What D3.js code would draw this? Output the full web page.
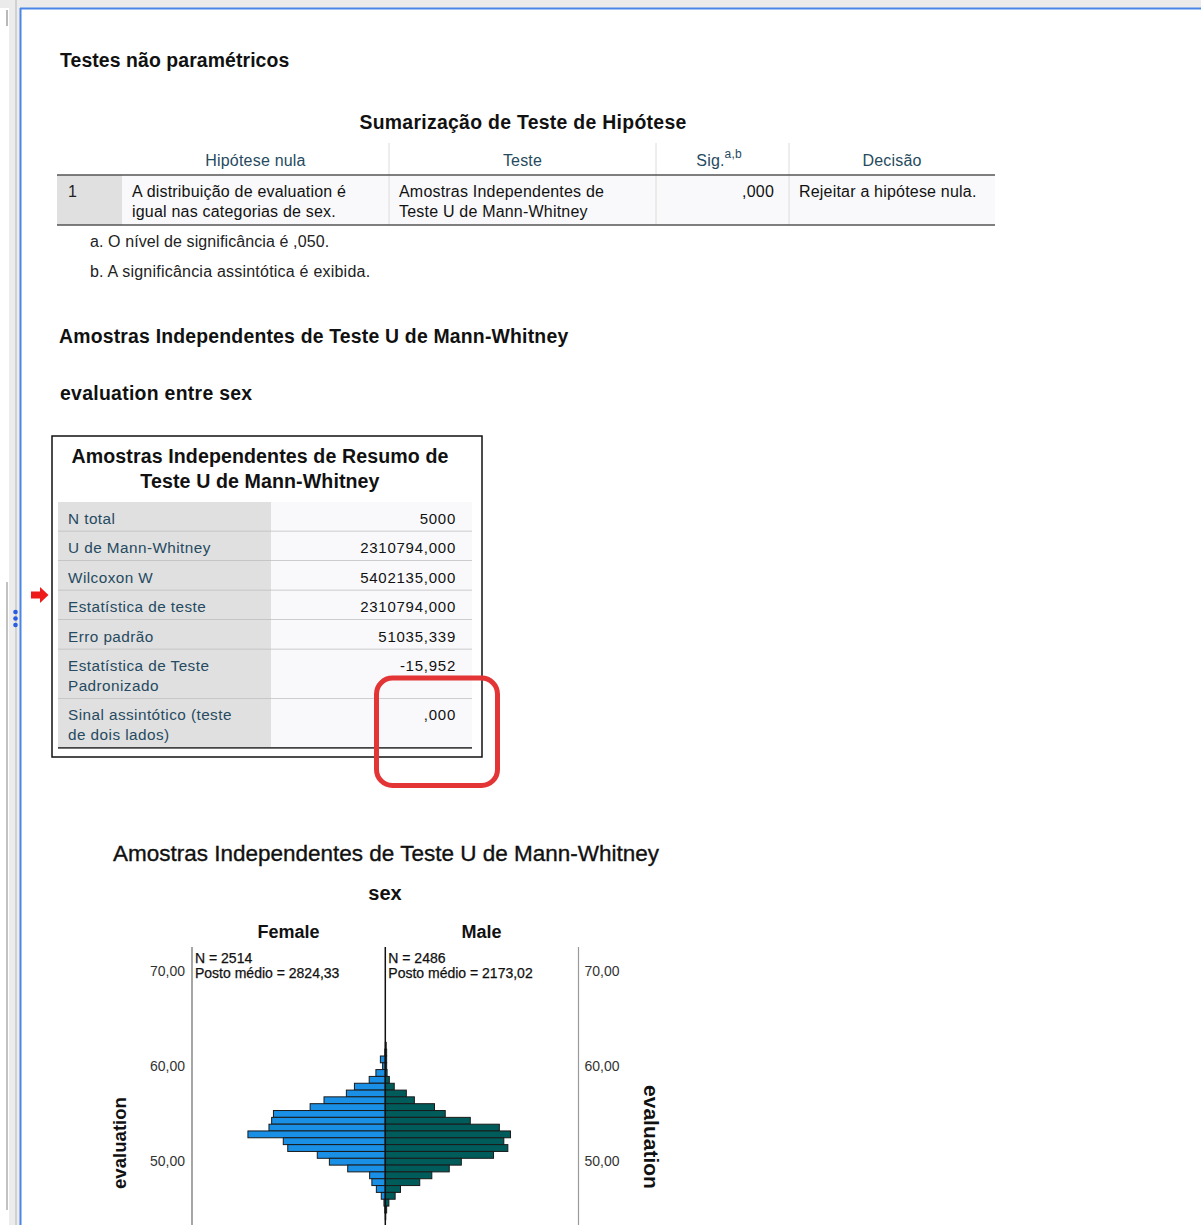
<!DOCTYPE html>
<html><head><meta charset="utf-8">
<script src="https://cdn.jsdelivr.net/npm/d3@7"></script>
<style>
body{margin:0;background:#fff;overflow:hidden;}
svg{display:block;}
text{font-family:"Liberation Sans",Arial,Helvetica,sans-serif;}
</style>
</head><body>
<svg id="c" width="1201" height="1225"></svg>
<script>
// ---------- DATA ----------
const pageTitle = "Testes não paramétricos";
const hypTitle = "Sumarização de Teste de Hipótese";
const hypHeaders = ["Hipótese nula", "Teste", "Sig.", "Decisão"];
const hypRowNumber = "1";
const hypCells = [
  ["A distribuição de evaluation é", "igual nas categorias de sex."],
  ["Amostras Independentes de", "Teste U de Mann-Whitney"],
  [",000"],
  ["Rejeitar a hipótese nula."]
];
const footnotes = ["a. O nível de significância é ,050.", "b. A significância assintótica é exibida."];
const sectionTitle = "Amostras Independentes de Teste U de Mann-Whitney";
const subTitle = "evaluation entre sex";
const summaryTitle = ["Amostras Independentes de Resumo de", "Teste U de Mann-Whitney"];
const summaryLabels = [
  ["N total"], ["U de Mann-Whitney"], ["Wilcoxon W"], ["Estatística de teste"],
  ["Erro padrão"], ["Estatística de Teste", "Padronizado"], ["Sinal assintótico (teste", "de dois lados)"]
];
const summaryValues = ["5000", "2310794,000", "5402135,000", "2310794,000", "51035,339", "-15,952", ",000"];

const chartTitle = "Amostras Independentes de Teste U de Mann-Whitney";
const groupVar = "sex";
const groups = ["Female", "Male"];
const groupN = [2514, 2486];
const meanRanks = ["2824,33", "2173,02"];
const yLabel = "evaluation";
const yTicks = [50, 60, 70];
const binWidth = 0.718;
const binLow = [61.67, 60.95, 60.23, 59.51, 58.80, 58.08, 57.36, 56.64, 55.93, 55.21, 54.49, 53.77, 53.05,
                52.34, 51.62, 50.90, 50.18, 49.46, 48.75, 48.03, 47.31, 46.59, 45.87, 45.15, 44.43, 43.72];
const femaleCounts = [0, 1, 11, 6, 21, 36, 69, 87, 137, 168, 250, 254, 260, 307, 228, 218, 152, 125, 84, 35, 30, 20, 9, 3, 1, 0];
const maleCounts   = [2, 3, 3, 3, 4, 9, 20, 47, 65, 110, 134, 190, 255, 280, 265, 274, 242, 170, 143, 104, 77, 34, 22, 8, 3, 1];

// ---------- DRAW ----------
const svg = d3.select("#c");
const FONT = '"Liberation Sans",Arial,Helvetica,sans-serif';

function txt(x, y, s, o = {}) {
  const t = svg.append("text").attr("x", x).attr("y", y).text(s)
    .attr("font-size", o.size || 16)
    .attr("font-weight", o.bold ? "bold" : "normal")
    .attr("fill", o.fill || "#111")
    .attr("text-anchor", o.anchor || "start")
    .attr("letter-spacing", o.ls || 0);
  if (o.heavy) t.attr("stroke", o.fill || "#111").attr("stroke-width", o.heavy);
  return t;
}

// window chrome
svg.append("rect").attr("x", 0).attr("y", 0).attr("width", 1201).attr("height", 8).attr("fill", "#ebebeb");
svg.append("rect").attr("x", 9).attr("y", 0).attr("width", 11).attr("height", 1225).attr("fill", "#ececec");
svg.append("line").attr("x1", 16).attr("x2", 16).attr("y1", 0).attr("y2", 1225).attr("stroke", "#c8c8c8").attr("stroke-width", 1.5);
svg.append("line").attr("x1", 7).attr("x2", 7).attr("y1", 10).attr("y2", 26).attr("stroke", "#8a8a8a").attr("stroke-width", 1.2);
svg.append("line").attr("x1", 7).attr("x2", 7).attr("y1", 582).attr("y2", 1210).attr("stroke", "#9a9a9a").attr("stroke-width", 1.2);
svg.append("line").attr("x1", 20).attr("x2", 1201).attr("y1", 8.5).attr("y2", 8.5).attr("stroke", "#4a86e8").attr("stroke-width", 2);
svg.append("line").attr("x1", 20.5).attr("x2", 20.5).attr("y1", 8).attr("y2", 1225).attr("stroke", "#4a86e8").attr("stroke-width", 2);
[612, 618.5, 625].forEach(cy => svg.append("circle").attr("cx", 15.5).attr("cy", cy).attr("r", 2.3).attr("fill", "#2a5be0"));
svg.append("path").attr("d", "M31,591.5 L40,591.5 L40,587 L48.5,595 L40,603 L40,598.5 L31,598.5 Z").attr("fill", "#ee1b1b");

// page title
txt(60, 67, pageTitle, {size: 19.4, bold: true, ls: 0.1});

// hypothesis table
txt(523, 129, hypTitle, {size: 19.4, bold: true, anchor: "middle", ls: 0.3});
const colX = [57, 122, 389, 656, 789, 995];
const headY = 143, headBottom = 175, rowBottom = 225;
const HEAD = "#264a60";
svg.append("rect").attr("x", colX[0]).attr("y", headBottom).attr("width", colX[1] - colX[0]).attr("height", rowBottom - headBottom).attr("fill", "#e0e0e0");
svg.append("rect").attr("x", colX[1]).attr("y", headBottom).attr("width", colX[5] - colX[1]).attr("height", rowBottom - headBottom).attr("fill", "#f9f9fb");
[2, 3, 4].forEach(i => svg.append("line").attr("x1", colX[i]).attr("x2", colX[i]).attr("y1", headY).attr("y2", rowBottom).attr("stroke", "#dcdcdc").attr("stroke-width", 1));
hypHeaders.forEach((h, i) => {
  const cx = (colX[i + 1] + colX[i + 2]) / 2;
  if (h === "Sig.") {
    txt(cx - 12, 166, h, {size: 16, fill: HEAD, anchor: "middle", ls: 0.2});
    txt(cx + 2, 158, "a,b", {size: 12, fill: HEAD, ls: 0.3});
  } else {
    txt(cx, 166, h, {size: 16, fill: HEAD, anchor: "middle", ls: 0.2});
  }
});
svg.append("line").attr("x1", colX[0]).attr("x2", colX[5]).attr("y1", headBottom).attr("y2", headBottom).attr("stroke", "#555").attr("stroke-width", 1.6);
svg.append("line").attr("x1", colX[0]).attr("x2", colX[5]).attr("y1", rowBottom).attr("y2", rowBottom).attr("stroke", "#555").attr("stroke-width", 1.6);
txt(68, 197, hypRowNumber, {size: 16, fill: "#222"});
hypCells.forEach((lines, i) => {
  lines.forEach((l, j) => {
    if (i === 2) txt(colX[4] - 15, 197 + j * 20, l, {size: 16, anchor: "end", ls: 0.2});
    else txt(colX[i + 1] + 10, 197 + j * 20, l, {size: 16, ls: 0.2});
  });
});
footnotes.forEach((f, i) => txt(90, 247 + i * 30, f, {size: 16, fill: "#222", ls: i === 0 ? 0.1 : 0.22}));

// section titles
txt(59, 343, sectionTitle, {size: 19.4, bold: true, ls: 0.2});
txt(60, 400, subTitle, {size: 19.4, bold: true, ls: 0.3});

// summary table box
svg.append("rect").attr("x", 52).attr("y", 436).attr("width", 430).attr("height", 321).attr("fill", "#fff").attr("stroke", "#111").attr("stroke-width", 1.5);
summaryTitle.forEach((s, i) => txt(260, 463 + i * 24.5, s, {size: 19.6, bold: true, anchor: "middle", ls: 0.1}));
let ry = 502;
const labX0 = 58, labX1 = 271, valX1 = 472;
summaryLabels.forEach((lines, i) => {
  const h = lines.length === 1 ? 29.5 : 49.2;
  svg.append("rect").attr("x", labX0).attr("y", ry).attr("width", labX1 - labX0).attr("height", h).attr("fill", "#e0e0e0");
  svg.append("rect").attr("x", labX1).attr("y", ry).attr("width", valX1 - labX1).attr("height", h).attr("fill", "#f9f9fb");
  lines.forEach((l, j) => txt(68, ry + 21.5 + j * 20, l, {size: 15.3, fill: HEAD, ls: 0.45}));
  txt(456, ry + 21.5, summaryValues[i], {size: 15, anchor: "end", ls: 0.75});
  ry += h;
  const last = i === summaryLabels.length - 1;
  svg.append("line").attr("x1", labX0).attr("x2", valX1).attr("y1", ry).attr("y2", ry)
    .attr("stroke", last ? "#444" : "#bcbcbc").attr("stroke-width", last ? 1.8 : 1.4);
});

// red highlight
svg.append("rect").attr("x", 376.5).attr("y", 678).attr("width", 121).attr("height", 107.5).attr("rx", 16)
  .attr("fill", "none").attr("stroke", "#e33535").attr("stroke-width", 5);

// ---------- population pyramid ----------
const cx0 = 385.3, leftAx = 192, rightAx = 578.5;
const y = d3.scaleLinear().domain([70, 50]).range([970, 1160]);
const xF = d3.scaleLinear().domain([0, 432]).range([cx0, leftAx]);
const xM = d3.scaleLinear().domain([0, 432]).range([cx0, rightAx]);

txt(386, 861, chartTitle, {size: 22.5, anchor: "middle", fill: "#111", heavy: 0.35});
txt(385, 900, groupVar, {size: 20, bold: true, anchor: "middle"});
txt(288.5, 938, groups[0], {size: 18, bold: true, anchor: "middle"});
txt(481.5, 938, groups[1], {size: 18, bold: true, anchor: "middle"});

const bars = svg.append("g");
binLow.forEach((lo, i) => {
  const yt = y(lo + binWidth), yb = y(lo);
  if (femaleCounts[i] > 0)
    bars.append("rect").attr("x", xF(femaleCounts[i])).attr("y", yt).attr("width", cx0 - xF(femaleCounts[i])).attr("height", yb - yt)
      .attr("fill", "#1990e6").attr("stroke", "#1a1a1a").attr("stroke-width", 1);
  if (maleCounts[i] > 0)
    bars.append("rect").attr("x", cx0).attr("y", yt).attr("width", xM(maleCounts[i]) - cx0).attr("height", yb - yt)
      .attr("fill", "#005c5a").attr("stroke", "#1a1a1a").attr("stroke-width", 1);
});

svg.append("line").attr("x1", leftAx).attr("x2", leftAx).attr("y1", 947).attr("y2", 1225).attr("stroke", "#6a6a6a").attr("stroke-width", 1.2);
svg.append("line").attr("x1", rightAx).attr("x2", rightAx).attr("y1", 947).attr("y2", 1225).attr("stroke", "#9a9a9a").attr("stroke-width", 1.2);
svg.append("line").attr("x1", cx0).attr("x2", cx0).attr("y1", 947).attr("y2", 1225).attr("stroke", "#111").attr("stroke-width", 1.5);

const loc = d3.formatLocale({decimal: ",", thousands: ".", grouping: [3], currency: ["", ""]});
const fmt = loc.format(".2f");
const axL = svg.append("g").attr("transform", `translate(${leftAx},0)`)
  .call(d3.axisLeft(y).tickValues(yTicks).tickSize(0).tickPadding(7).tickFormat(fmt));
const axR = svg.append("g").attr("transform", `translate(${rightAx},0)`)
  .call(d3.axisRight(y).tickValues(yTicks).tickSize(0).tickPadding(6).tickFormat(fmt));
[axL, axR].forEach(a => {
  a.select(".domain").remove();
  a.attr("font-family", FONT).attr("font-size", 14);
  a.selectAll("text").attr("fill", "#333").attr("dy", "0.4em");
});

// annotations
[0, 1].forEach(g => {
  const x0 = g === 0 ? leftAx + 3 : cx0 + 3;
  txt(x0, 963, "N = " + groupN[g], {size: 14, fill: "#111", heavy: 0.25});
  txt(x0, 978, "Posto médio = " + meanRanks[g], {size: 14, fill: "#111", heavy: 0.25});
});

// y axis titles
svg.append("text").attr("transform", "translate(126,1143) rotate(-90)").attr("text-anchor", "middle")
  .attr("font-size", 18.6).attr("font-weight", "bold").attr("fill", "#111").text(yLabel);
svg.append("text").attr("transform", "translate(644,1137) rotate(90)").attr("text-anchor", "middle")
  .attr("font-size", 21).attr("font-weight", "bold").attr("fill", "#111").text(yLabel);
</script>
</body></html>
